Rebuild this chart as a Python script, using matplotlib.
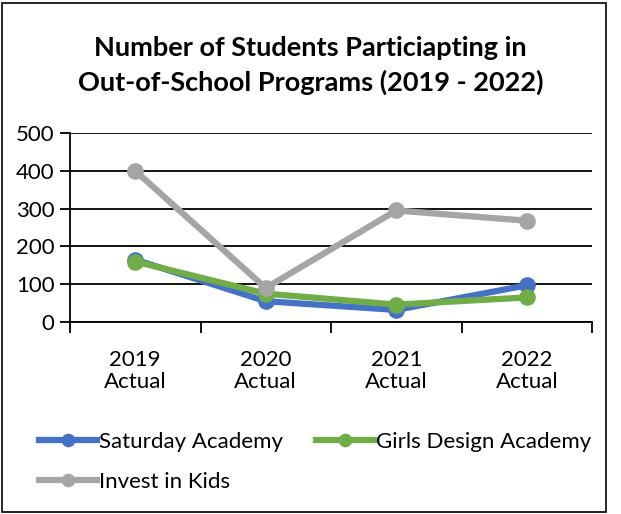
import matplotlib.pyplot as plt
import numpy as np
from matplotlib.patches import Rectangle

# data to plot
years = ['2019\nActual', '2020\nActual', '2021\nActual', '2022\nActual']
saturday = [165, 55, 32, 97]
girls = [160, 75, 46, 65]
invest = [400, 90, 295, 268]

plt.rcParams['font.family'] = ['Lato', 'DejaVu Sans']

fig = plt.figure(figsize=(6.21, 5.14), dpi=100)
ax = fig.add_axes([70/621, 1 - 322/514, 522/621, 189/514])
x = np.arange(len(years))

l1, = ax.plot(x, saturday, color='#4472C4', lw=4.5, marker='o', ms=11, label='Saturday Academy')
l2, = ax.plot(x, girls, color='#70AD47', lw=4.5, marker='o', ms=11, label='Girls Design Academy')
l3, = ax.plot(x, invest, color='#A5A5A5', lw=4.5, marker='o', ms=11, label='Invest in Kids')

ax.set_xlim(-0.5, 3.5)
ax.set_ylim(0, 500)
ax.set_yticks([0, 100, 200, 300, 400, 500])
ax.set_xticks(x)
ax.set_xticklabels(years, fontsize=16, linespacing=1.15)
ax.set_xticks(np.arange(-0.5, 4, 1), minor=True)
ax.tick_params(axis='x', which='major', length=0, pad=20)
ax.tick_params(axis='x', which='minor', length=8, width=1.3, direction='out')
ax.tick_params(axis='y', length=7, width=1.3, labelsize=16, pad=4)
ax.grid(axis='y', color='black', lw=1.3)
ax.set_axisbelow(True)
for s in ['top', 'right']:
    ax.spines[s].set_visible(False)
ax.spines['left'].set_linewidth(1.3)
ax.spines['bottom'].set_linewidth(1.3)

fig.text(0.5, 1 - 48/514, 'Number of Students Particiapting in', ha='center', va='center',
         fontsize=19.5, fontweight='bold')
fig.text(0.5, 1 - 82/514, 'Out-of-School Programs (2019 - 2022)', ha='center', va='center',
         fontsize=19.5, fontweight='bold')

# column-major fill, so reorder to read row by row
leg = fig.legend([l1, l3, l2], [l1.get_label(), l3.get_label(), l2.get_label()],
                 loc='upper left', bbox_to_anchor=(39/621, 1 - 432/514), ncol=2,
                 frameon=False, fontsize=16, handlelength=2.6, handletextpad=0.1,
                 columnspacing=1.5, labelspacing=0.9, borderaxespad=0, borderpad=0,
                 markerscale=0.8)

fig.patches.append(Rectangle((2/621, 2/514), 604/621, 509/514, transform=fig.transFigure,
                             fill=False, edgecolor='black', lw=1.2))

plt.savefig('out.png')
